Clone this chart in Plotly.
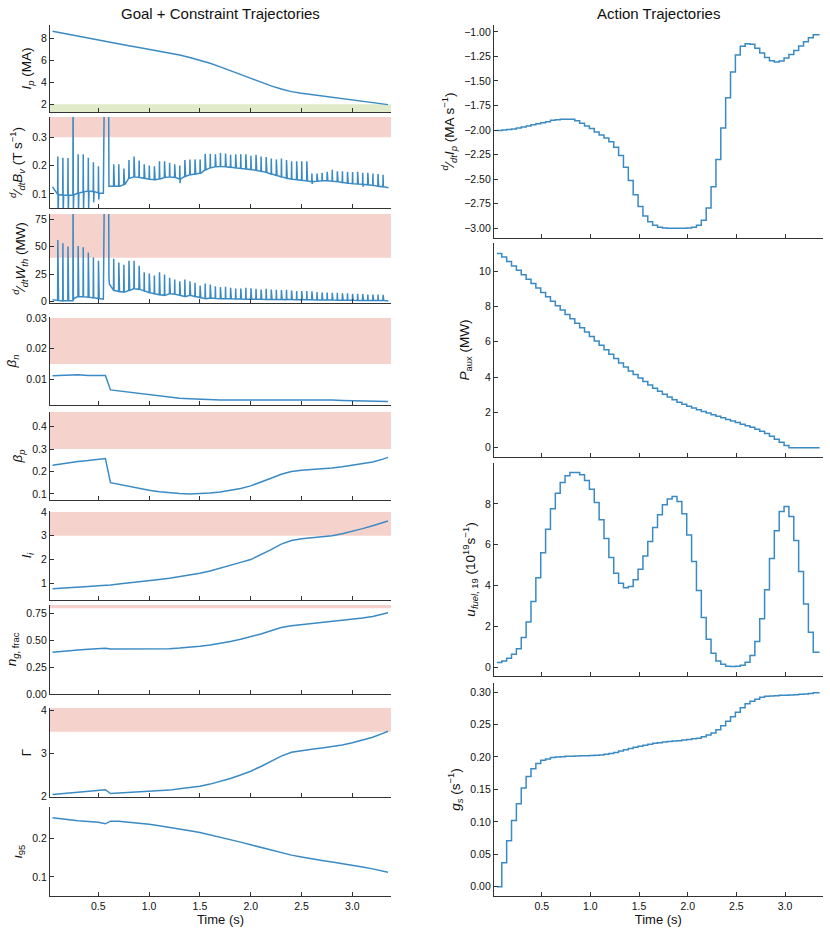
import plotly.graph_objects as go

W, H = 830, 933
BLUE = "#3a8ac4"
RED = "#f6d2cd"
GREEN = "#e1ebca"
AX = "#333333"
FONT = "Liberation Sans, Arial, Helvetica, sans-serif"

# ---------------- goal + constraint trajectories (smooth) ----------------
T_GOAL = [0.05, 0.1, 0.2, 0.3, 0.4, 0.5, 0.57, 0.62, 0.7, 0.8, 0.9, 1.0, 1.1, 1.2, 1.3, 1.4,
          1.5, 1.6, 1.7, 1.8, 1.9, 2.0, 2.1, 2.2, 2.3, 2.4, 2.5, 2.6, 2.7, 2.8, 2.9, 3.0,
          3.1, 3.2, 3.3, 3.35]
IP = [8.63, 8.54, 8.36, 8.18, 8.0, 7.8, 7.67, 7.59, 7.47, 7.32, 7.16, 7.0, 6.84, 6.66, 6.47, 6.25,
      6.0, 5.72, 5.4, 5.05, 4.7, 4.35, 4.0, 3.67, 3.38, 3.15, 3.0, 2.88, 2.77, 2.66, 2.55, 2.44,
      2.32, 2.18, 2.04, 1.97]
BETA_N = [0.0112, 0.0113, 0.0114, 0.0115, 0.0113, 0.0113, 0.0113, 0.0066, 0.0063, 0.0059, 0.0055,
          0.0050, 0.0046, 0.0042, 0.0039, 0.0037, 0.0035, 0.0034, 0.0033, 0.0033, 0.0033, 0.0033,
          0.0034, 0.0034, 0.0035, 0.0035, 0.0035, 0.0035, 0.0034, 0.0033, 0.0032, 0.0031, 0.0030,
          0.0029, 0.0028, 0.0028]
BETA_P = [0.228, 0.232, 0.24, 0.245, 0.249, 0.254, 0.258, 0.15, 0.143, 0.135, 0.124, 0.116, 0.11,
          0.105, 0.102, 0.1, 0.101, 0.104, 0.109, 0.115, 0.124, 0.136, 0.152, 0.17, 0.188, 0.2,
          0.205, 0.208, 0.212, 0.216, 0.221, 0.227, 0.233, 0.242, 0.255, 0.263]
L_I = [0.77, 0.78, 0.81, 0.84, 0.87, 0.9, 0.91, 0.93, 0.97, 1.01, 1.06, 1.11, 1.16, 1.21, 1.27,
       1.34, 1.42, 1.52, 1.63, 1.76, 1.88, 2.0, 2.2, 2.42, 2.65, 2.8, 2.87, 2.91, 2.95, 3.0,
       3.08, 3.18, 3.3, 3.42, 3.55, 3.62]
NG_FRAC = [0.39, 0.395, 0.402, 0.41, 0.418, 0.424, 0.427, 0.42, 0.42, 0.42, 0.42, 0.42, 0.42,
           0.423, 0.428, 0.435, 0.445, 0.458, 0.472, 0.49, 0.51, 0.533, 0.56, 0.59, 0.62, 0.637,
           0.647, 0.655, 0.663, 0.672, 0.683, 0.695, 0.708, 0.722, 0.745, 0.757]
GAMMA = [2.04, 2.05, 2.07, 2.09, 2.11, 2.13, 2.15, 2.06, 2.07, 2.08, 2.09, 2.1, 2.12, 2.14, 2.17,
         2.2, 2.23, 2.28, 2.34, 2.41, 2.49, 2.58, 2.69, 2.81, 2.93, 3.02, 3.06, 3.09, 3.12, 3.15,
         3.19, 3.24, 3.3, 3.37, 3.46, 3.51]
IOTA_95 = [0.255, 0.253, 0.25, 0.247, 0.245, 0.243, 0.239, 0.246, 0.246, 0.244, 0.241, 0.238,
           0.234, 0.23, 0.226, 0.221, 0.216, 0.21, 0.204, 0.197, 0.191, 0.184, 0.177, 0.17, 0.163,
           0.157, 0.152, 0.147, 0.143, 0.139, 0.135, 0.13, 0.126, 0.121, 0.115, 0.112]

# ---------------- spiky rate signals (spike every control step) ----------------
SPIKE_T = [round(0.10 + 0.05 * k, 2) for k in range(65)]
DBV_PEAK = [0.232, 0.228, 0.227, 0.45, 0.24, 0.24, 0.228, 0.212, 0.198, 0.45, 0.45, 0.205, 0.205,
            0.19, 0.22, 0.232, 0.218, 0.205, 0.2,
            0.198, 0.215, 0.215, 0.21, 0.205, 0.2, 0.22, 0.222, 0.222, 0.222, 0.242, 0.242, 0.24,
            0.245, 0.243, 0.238, 0.24, 0.24, 0.24, 0.235,
            0.238, 0.232, 0.23, 0.225, 0.222, 0.225, 0.22, 0.215, 0.215, 0.215, 0.215, 0.172,
            0.172, 0.175, 0.178, 0.185, 0.18, 0.18, 0.178, 0.177,
            0.178, 0.175, 0.175, 0.172, 0.17, 0.168]
DBV_BASE = [0.098, 0.095, 0.095, 0.096, 0.103, 0.107, 0.11, 0.108, 0.103, 0.102, 0.45, 0.127,
            0.127, 0.132, 0.155, 0.16, 0.158, 0.155, 0.152,
            0.15, 0.153, 0.158, 0.16, 0.158, 0.152, 0.162, 0.168, 0.17, 0.173, 0.185, 0.192,
            0.196, 0.197, 0.196, 0.194, 0.192, 0.19, 0.188, 0.186,
            0.183, 0.18, 0.176, 0.17, 0.165, 0.16, 0.155, 0.152, 0.15, 0.148, 0.146, 0.143,
            0.145, 0.146, 0.146, 0.145, 0.143, 0.14, 0.138, 0.136,
            0.135, 0.134, 0.132, 0.13, 0.127, 0.125]
DBV_DIP = {0.10: 0.02, 0.15: 0.03, 0.20: 0.035, 0.25: 0.045, 0.30: 0.03, 0.35: 0.04, 0.40: 0.05,
           0.45: 0.07, 0.50: 0.08, 0.55: 0.45, 0.60: 0.127, 1.30: 0.138, 2.60: 0.135, 3.10: 0.125}
DBV_POST = {0.55: 0.45, 0.60: 0.127}
DBV_START = (0.05, 0.125)
DBV_END = (3.355, 0.122)

DWTH_PEAK = [56.2, 53.2, 50.2, 95, 50.8, 49.5, 44.7, 40.2, 37.2, 95, 95, 39, 35.6, 33.5, 37.2,
             37.2, 32.6, 26.6, 25.4,
             23.6, 26.6, 24.5, 21.5, 20.0, 18.4, 20.0, 18.4, 17.0, 14.5, 16.3, 15.4, 13.9, 13.0,
             13.3, 12.4, 11.8, 11.8, 12.4, 12.0,
             11.5, 10.9, 11.5, 10.9, 10.6, 10.3, 10.6, 10.0, 9.4, 9.4, 9.4, 9.1, 8.5, 8.2, 8.2,
             7.9, 7.9, 7.3, 7.3, 7.0,
             7.0, 6.7, 6.3, 6.3, 6.3, 6.0]
DWTH_BASE = [0.8, 0.5, 0.5, 0.5, 4.5, 4.2, 3.8, 3.2, 2.6, 2.0, 95, 10.0, 9.0, 8.5, 10.0, 11.5,
             11.0, 9.5, 8.0,
             7.0, 6.0, 5.5, 7.0, 6.5, 5.5, 4.5, 5.5, 4.5, 3.5, 2.5, 3.0, 2.6, 2.5, 2.4, 2.3,
             2.2, 2.1, 2.0, 2.0,
             1.9, 1.9, 1.8, 1.8, 1.7, 1.7, 1.6, 1.6, 1.5, 1.5, 1.4, 1.4, 1.3, 1.3, 1.2, 1.2,
             1.1, 1.1, 1.0, 1.0,
             0.9, 0.9, 0.8, 0.8, 0.7, 0.7]
DWTH_DIP = {0.25: 1.0, 0.55: 95, 0.60: 22.0}
DWTH_POST = {0.25: 2.5, 0.55: 95, 0.60: 16.0}
DWTH_START = (0.05, 1.5)
DWTH_END = (3.355, 0.6)

# ---------------- action trajectories (piecewise constant, 0.05 s steps) ----------------
ACT_T = [round(0.04 + 0.05 * k, 2) for k in range(66)]
ACT_T_END = 3.355
DIP_DT = [-2.005, -2.0, -1.995, -1.99, -1.98, -1.97, -1.96, -1.945, -1.935, -1.925, -1.915, -1.90,
          -1.895, -1.89, -1.89, -1.89, -1.905, -1.93, -1.96, -1.985, -2.02, -2.05, -2.08, -2.12,
          -2.175, -2.26, -2.38, -2.515, -2.66, -2.78, -2.875, -2.935, -2.97, -2.99, -2.997, -3.0,
          -3.0, -3.0, -3.0, -2.997, -2.99, -2.97, -2.92, -2.795, -2.578, -2.30, -1.98, -1.67,
          -1.41, -1.235, -1.147, -1.12, -1.126, -1.167, -1.215, -1.26, -1.293, -1.307, -1.296,
          -1.265, -1.23, -1.19, -1.145, -1.10, -1.06, -1.03]
P_AUX = [11.0, 10.8, 10.55, 10.3, 10.05, 9.8, 9.55, 9.3, 9.05, 8.8, 8.55, 8.3, 8.05, 7.8, 7.55,
         7.3, 7.05, 6.8, 6.55, 6.3, 6.05, 5.8, 5.55, 5.3, 5.05, 4.8, 4.57, 4.35, 4.15, 3.95,
         3.75, 3.55, 3.37, 3.2, 3.03, 2.87, 2.72, 2.58, 2.46, 2.35, 2.25, 2.15, 2.05, 1.96, 1.87,
         1.78, 1.69, 1.6, 1.51, 1.42, 1.33, 1.24, 1.15, 1.05, 0.93, 0.8, 0.65, 0.48, 0.3, 0.12,
         0, 0, 0, 0, 0, 0]
U_FUEL = [0.23, 0.31, 0.44, 0.64, 0.90, 1.45, 2.22, 3.22, 4.38, 5.60, 6.76, 7.76, 8.52, 9.04,
          9.37, 9.53, 9.53, 9.42, 9.14, 8.72, 8.07, 7.22, 6.30, 5.37, 4.60, 4.11, 3.89, 3.95,
          4.28, 4.80, 5.44, 6.16, 6.84, 7.46, 7.95, 8.24, 8.36, 8.11, 7.51, 6.48, 5.18, 3.76,
          2.43, 1.37, 0.69, 0.31, 0.15, 0.05, 0.03, 0.05, 0.10, 0.24, 0.57, 1.26, 2.37, 3.79,
          5.32, 6.68, 7.62, 7.87, 7.38, 6.20, 4.69, 3.10, 1.71, 0.73]
G_S = [0.0, 0.037, 0.071, 0.102, 0.128, 0.152, 0.170, 0.182, 0.190, 0.195, 0.197, 0.199, 0.200,
       0.2005, 0.201, 0.201, 0.2015, 0.2018, 0.202, 0.2022, 0.2025, 0.203, 0.204, 0.2055, 0.207,
       0.209, 0.211, 0.213, 0.215, 0.2165, 0.218, 0.2195, 0.221, 0.222, 0.223, 0.224, 0.2245,
       0.225, 0.226, 0.227, 0.228, 0.229, 0.231, 0.234, 0.237, 0.242, 0.248, 0.255, 0.262,
       0.269, 0.276, 0.282, 0.286, 0.289, 0.292, 0.2935, 0.294, 0.2945, 0.295, 0.2953, 0.2956,
       0.296, 0.2965, 0.297, 0.298, 0.299]

X_TICKS = [0.5, 1.0, 1.5, 2.0, 2.5, 3.0]


def spike_series(start, times, base, peak, dips, posts, end):
    xs, ys = [start[0]], [start[1]]
    for t, b, p in zip(times, base, peak):
        d = dips.get(t, b)
        q = posts.get(t, b)
        xs += [t, t + 0.002, t + 0.005, t + 0.009]
        ys += [b, p, d, q]
    xs.append(end[0])
    ys.append(end[1])
    return xs, ys


dbv_x, dbv_y = spike_series(DBV_START, SPIKE_T, DBV_BASE, DBV_PEAK, DBV_DIP, DBV_POST, DBV_END)
dw_x, dw_y = spike_series(DWTH_START, SPIKE_T, DWTH_BASE, DWTH_PEAK, DWTH_DIP, DWTH_POST, DWTH_END)

DFRAC = "<sup><i>d</i></sup>⁄<sub><i>dt</i></sub>"
left_panels = [
    dict(x=T_GOAL, y=IP, title="<i>I</i><sub><i>p</i></sub> (MA)", rng=[1.3, 9.2],
         ticks=[2, 4, 6, 8], fmt="d", band=(1.3, 2.0, GREEN), top=25, bot=112),
    dict(x=dbv_x, y=dbv_y, title=DFRAC + "<i>B</i><sub><i>v</i></sub> (T s<sup>−1</sup>)",
         rng=[0.05, 0.372], ticks=[0.1, 0.2, 0.3], fmt=".1f", band=(0.3, 0.372, RED), top=117, bot=208),
    dict(x=dw_x, y=dw_y, title=DFRAC + "<i>W</i><sub><i>th</i></sub> (MW)", rng=[-1.5, 80],
         ticks=[0, 25, 50, 75], fmt="d", band=(40, 80, RED), top=214, bot=303),
    dict(x=T_GOAL, y=BETA_N, title="<i>β</i><sub><i>n</i></sub>", rng=[0.0017, 0.0303],
         ticks=[0.01, 0.02, 0.03], fmt=".2f", band=(0.015, 0.03, RED), top=317, bot=405),
    dict(x=T_GOAL, y=BETA_P, title="<i>β</i><sub><i>p</i></sub>", rng=[0.073, 0.465],
         ticks=[0.1, 0.2, 0.3, 0.4], fmt=".1f", band=(0.3, 0.465, RED), top=412, bot=500),
    dict(x=T_GOAL, y=L_I, title="<i>l</i><sub><i>i</i></sub>", rng=[0.3, 4.04],
         ticks=[1, 2, 3, 4], fmt="d", band=(3.0, 4.0, RED), top=511, bot=600),
    dict(x=T_GOAL, y=NG_FRAC, title="<i>n</i><sub><i>g</i>, frac</sub>", rng=[0, 0.83],
         ticks=[0, 0.25, 0.5, 0.75], fmt=".2f", band=(0.8, 0.83, RED), top=605, bot=694),
    dict(x=T_GOAL, y=GAMMA, title="Γ", rng=[1.98, 4.05],
         ticks=[2, 3, 4], fmt="d", band=(3.5, 4.05, RED), top=708, bot=797),
    dict(x=T_GOAL, y=IOTA_95, title="<i>ι</i><sub>95</sub>", rng=[0.05, 0.283],
         ticks=[0.1, 0.2], fmt=".1f", band=None, top=807, bot=896),
]

right_panels = [
    dict(y=DIP_DT, title=DFRAC + "<i>I</i><sub><i>p</i></sub> (MA s<sup>−1</sup>)",
         rng=[-3.10, -0.93], ticks=[-3.0, -2.75, -2.5, -2.25, -2.0, -1.75, -1.5, -1.25, -1.0],
         fmt=".2f", top=25, bot=238),
    dict(y=P_AUX, title="<i>P</i><sub>aux</sub> (MW)", rng=[-0.53, 11.6],
         ticks=[0, 2, 4, 6, 8, 10], fmt="d", top=243, bot=457),
    dict(y=U_FUEL, title="<i>u</i><sub><i>fuel</i>, 19</sub> (10<sup>19</sup>s<sup>−1</sup>)",
         rng=[-0.43, 10.0], ticks=[0, 2, 4, 6, 8], fmt="d", top=463, bot=676),
    dict(y=G_S, title="<i>g</i><sub><i>s</i></sub> (s<sup>−1</sup>)", rng=[-0.0143, 0.314],
         ticks=[0.0, 0.05, 0.1, 0.15, 0.2, 0.25, 0.3], fmt=".2f", top=683, bot=896),
]

fig = go.Figure()
layout = {}


def axis_names(n):
    return ("x" if n == 1 else f"x{n}"), ("y" if n == 1 else f"y{n}")


def add_axes(n, xdom, xrng, p, bottom):
    xn, yn = axis_names(n)
    common = dict(showline=True, linecolor=AX, linewidth=1.3, ticks="inside", ticklen=4,
                  tickwidth=1, tickcolor=AX, showgrid=False, zeroline=False, automargin=False,
                  tickfont=dict(size=10.5, color="#111", family=FONT))
    xa = dict(domain=xdom, range=xrng, anchor=yn, tickvals=X_TICKS,
              ticktext=[f"{v:.1f}" for v in X_TICKS], showticklabels=bottom, **common)
    if bottom:
        xa["title"] = dict(text="Time (s)", font=dict(size=13, family=FONT, color="#111"),
                           standoff=4)
    layout["xaxis" if n == 1 else f"xaxis{n}"] = xa
    layout["yaxis" if n == 1 else f"yaxis{n}"] = dict(
        domain=[1 - p["bot"] / H, 1 - p["top"] / H], range=p["rng"], anchor=xn,
        tickvals=p["ticks"], tickformat=p["fmt"],
        title=dict(text=p["title"], font=dict(size=13.5, family=FONT, color="#111"), standoff=6),
        **common)


LX = [50 / W, 391 / W]
LXR = [0.025, 3.38]
for i, p in enumerate(left_panels):
    n = i + 1
    xn, yn = axis_names(n)
    add_axes(n, LX, LXR, p, i == len(left_panels) - 1)
    if p["band"] is not None:
        y0, y1, col = p["band"]
        fig.add_shape(type="rect", xref=f"{xn} domain", x0=0, x1=1, yref=yn, y0=y0, y1=y1,
                      fillcolor=col, line=dict(width=0), layer="below")
    fig.add_trace(go.Scatter(x=p["x"], y=p["y"], mode="lines", xaxis=xn, yaxis=yn,
                             line=dict(color=BLUE, width=1.5), showlegend=False))

RX = [494 / W, 822.7 / W]
RXR = [0.01, 3.387]
for j, p in enumerate(right_panels):
    n = len(left_panels) + j + 1
    xn, yn = axis_names(n)
    add_axes(n, RX, RXR, p, j == len(right_panels) - 1)
    fig.add_trace(go.Scatter(x=ACT_T + [ACT_T_END], y=p["y"] + [p["y"][-1]], mode="lines",
                             line_shape="hv", xaxis=xn, yaxis=yn,
                             line=dict(color=BLUE, width=1.5), showlegend=False))

fig.update_layout(
    width=W, height=H, margin=dict(l=0, r=0, t=0, b=0),
    paper_bgcolor="white", plot_bgcolor="white",
    font=dict(family=FONT, color="#111"),
    annotations=[
        dict(text="Goal + Constraint Trajectories", x=(LX[0] + LX[1]) / 2, y=1 - 14 / H,
             xref="paper", yref="paper", xanchor="center", yanchor="middle", showarrow=False,
             font=dict(size=15, family=FONT, color="#111")),
        dict(text="Action Trajectories", x=(RX[0] + RX[1]) / 2, y=1 - 14 / H,
             xref="paper", yref="paper", xanchor="center", yanchor="middle", showarrow=False,
             font=dict(size=15, family=FONT, color="#111")),
    ],
    **layout,
)

fig.write_html(
    "out.html",
    config={"responsive": False, "displayModeBar": False},
    post_script="document.body.style.margin='0';document.body.style.overflow='hidden';",
)
